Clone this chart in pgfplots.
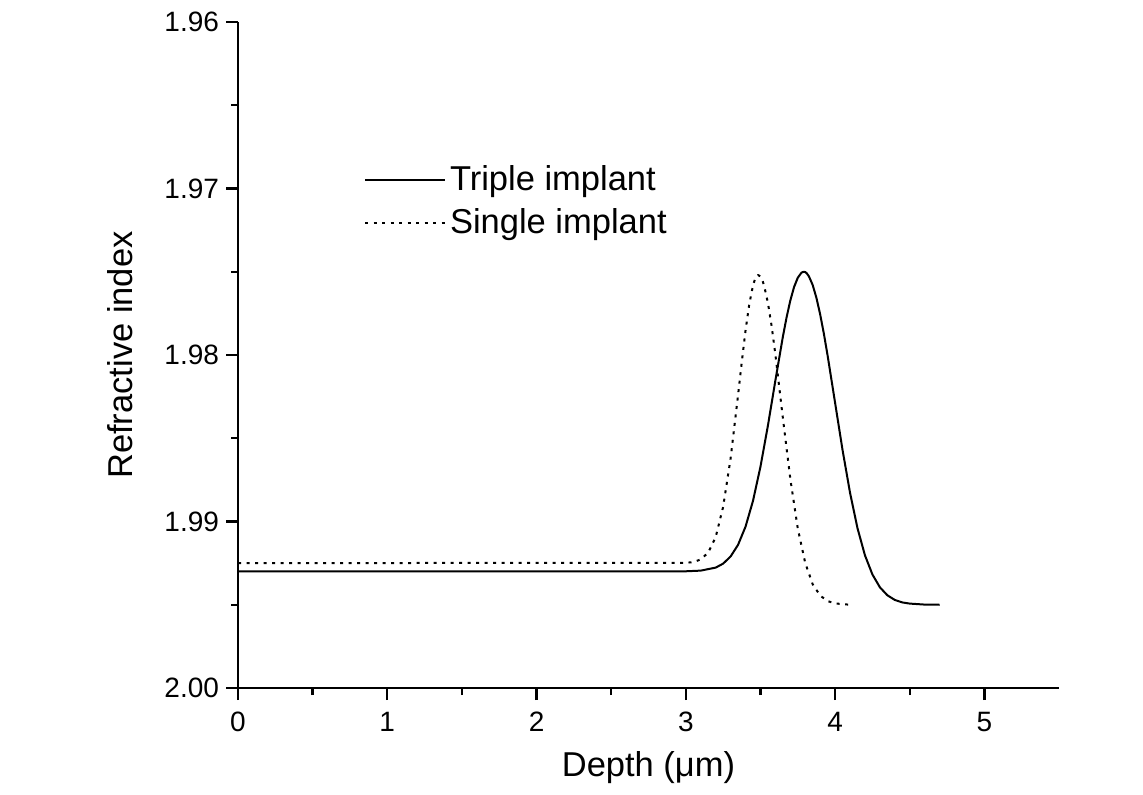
\documentclass[border=0pt]{standalone}
\usepackage{fontspec}
\setmainfont{Liberation Sans}
\usepackage{pgfplots}
\pgfplotsset{compat=1.18}
\begin{document}
\begin{tikzpicture}
\useasboundingbox (-119pt,-53.5pt) rectangle (452.5pt,344pt);
\begin{axis}[
  at={(0,0)}, anchor=south west,
  scale only axis, width=410.5pt, height=333pt,
  xmin=0, xmax=5.5, ymin=1.96, ymax=2.00,
  y dir=reverse,
  axis x line*=bottom, axis y line*=left,
  axis line style={line width=1.2pt, -},
  every tick/.style={line width=1.2pt, black},
  tick align=outside,
  major tick length=6pt, minor tick length=3.5pt,
  xtick={0,1,2,3,4,5}, minor x tick num=1,
  ytick={1.96,1.97,1.98,1.99,2.00}, minor y tick num=1,
  /pgf/number format/assume math mode=true,
  yticklabel style={/pgf/number format/.cd, fixed, fixed zerofill, precision=2},
  xticklabel style={/pgf/number format/.cd, fixed, /tikz/.cd, yshift=-2.5pt},
  tick label style={font=\fontsize{14}{16}\selectfont},
  every axis x label/.style={at={(axis description cs:0.5,-0.1201)}, anchor=center},
  every axis y label/.style={at={(axis description cs:-0.1437,0.5)}, anchor=center, rotate=90},
  label style={font=\fontsize{17.25}{20}\selectfont},
  xlabel={Depth (μm)},
  ylabel={Refractive index},
  legend style={draw=none, fill=none, at={(axis description cs:0.153,0.791)}, anchor=north west,
    font=\fontsize{17.25}{20}\selectfont, row sep=3.5pt, inner sep=0pt},
  legend cell align=left,
  legend image code/.code={\draw[#1] (0pt,0pt) -- (40pt,0pt);},
  clip=false,
]
\addplot[black, line width=1pt, line join=round] coordinates {
(0,1.99300) (3.00,1.99299) (3.10,1.99295) (3.20,1.99277) (3.25,1.99253)
(3.30,1.99210) (3.35,1.99140) (3.40,1.99031) (3.45,1.98876) (3.50,1.98671)
(3.55,1.98424) (3.60,1.98153) (3.65,1.97891) (3.675,1.97774) (3.70,1.97673)
(3.725,1.97592) (3.75,1.97536) (3.775,1.97505) (3.79,1.97500) (3.80,1.97502)
(3.81,1.97509) (3.825,1.97528) (3.85,1.97580) (3.875,1.97657) (3.90,1.97756)
(3.925,1.97873) (3.95,1.98004) (4.00,1.98287)
(4.05,1.98571) (4.10,1.98827) (4.15,1.99040) (4.20,1.99203) (4.25,1.99318)
(4.30,1.99395) (4.35,1.99443) (4.40,1.99471) (4.45,1.99486) (4.50,1.99493)
(4.60,1.99499) (4.70,1.99500)
};
\addlegendentry{Triple implant}
\addplot[black, line width=1pt, line join=round, dash pattern=on 1.5pt off 2.75pt] coordinates {
(0,1.99250) (3.00,1.99248) (3.05,1.99244) (3.10,1.99228) (3.15,1.99187)
(3.20,1.99094) (3.25,1.98912) (3.30,1.98621) (3.35,1.98241) (3.375,1.98041)
(3.40,1.97853) (3.425,1.97695) (3.45,1.97582) (3.465,1.97541) (3.475,1.97525)
(3.485,1.97520) (3.50,1.97529) (3.515,1.97557) (3.525,1.97585) (3.55,1.97687)
(3.575,1.97827) (3.60,1.97997)
(3.65,1.98377) (3.70,1.98744) (3.75,1.99042) (3.80,1.99249) (3.85,1.99377)
(3.90,1.99445) (3.95,1.99478) (4.00,1.99492) (4.10,1.99500)
};
\addlegendentry{Single implant}
\end{axis}
\end{tikzpicture}
\end{document}
